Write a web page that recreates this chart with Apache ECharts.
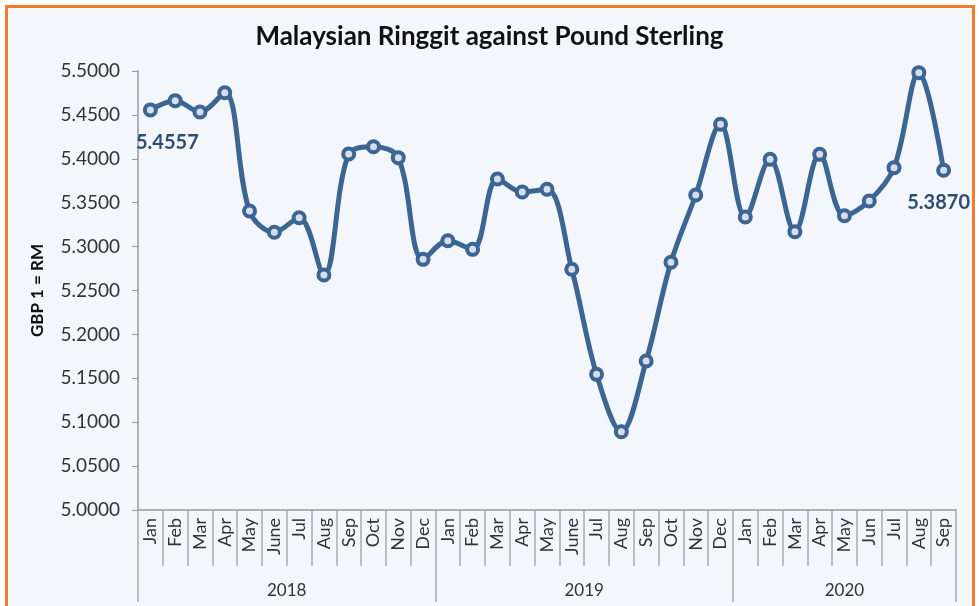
<!DOCTYPE html>
<html>
<head>
	<meta charset="utf-8" />
	<script src="https://cdn.jsdelivr.net/npm/echarts@6/dist/echarts.min.js"></script>
	<style>
		html, body { margin: 0; padding: 0; background: #fff; }
	</style>
</head>
<body>
	<div id="main" style="width: 979px;height:606px;"></div>

	<script type="text/javascript">
		// data
		var years = ['2018', '2019', '2020'];
		var monthsPerYear = [12, 12, 9];
		var months = [
			'Jan', 'Feb', 'Mar', 'Apr', 'May', 'June', 'Jul', 'Aug', 'Sep', 'Oct', 'Nov', 'Dec',
			'Jan', 'Feb', 'Mar', 'Apr', 'May', 'June', 'Jul', 'Aug', 'Sep', 'Oct', 'Nov', 'Dec',
			'Jan', 'Feb', 'Mar', 'Apr', 'May', 'Jun', 'Jul', 'Aug', 'Sep'
		];
		var rates = [
			5.4557, 5.4662, 5.4533, 5.4753, 5.3405, 5.3163, 5.3329, 5.2677, 5.4055, 5.4138, 5.4013, 5.2855,
			5.3067, 5.2969, 5.3770, 5.3622, 5.3653, 5.2742, 5.1545, 5.0892, 5.1697, 5.2821, 5.3588, 5.4393,
			5.3337, 5.3994, 5.3170, 5.4051, 5.3352, 5.3520, 5.3899, 5.4981, 5.3870
		];
		var labelIndex = [0, rates.length - 1];

		// year boundaries and centres on the secondary axis
		var bounds = [0];
		var centres = [];
		monthsPerYear.forEach(function (n) {
			var start = bounds[bounds.length - 1];
			bounds.push(start + n);
			centres.push(start + n / 2);
		});

		var font = 'Lato';
		var myChart = echarts.init(document.getElementById('main'));

		var option = {
			backgroundColor: '#ffffff',
			textStyle: { fontFamily: font },
			graphic: [{
				type: 'rect',
				z: -10,
				shape: { x: 6.5, y: 6.5, width: 967, height: 620 },
				style: { fill: '#F3F6FB', stroke: '#F47A2E', lineWidth: 3 }
			}],
			title: {
				text: 'Malaysian Ringgit against Pound Sterling',
				left: 'center',
				top: 19,
				textStyle: { fontFamily: font, fontSize: 26, fontWeight: 'bold', color: '#111' }
			},
			grid: { left: 138, right: 23, top: 71, bottom: 96 },
			xAxis: [{
				type: 'category',
				data: months,
				boundaryGap: true,
				axisLine: { lineStyle: { color: '#999', width: 1.5 } },
				axisTick: { show: true, interval: 0, length: 56, lineStyle: { color: '#aaa', width: 1.5 } },
				axisLabel: {
					interval: 0,
					rotate: 90,
					margin: 8,
					fontSize: 18,
					color: '#333'
				},
				splitLine: { show: false }
			}, {
				type: 'value',
				position: 'bottom',
				min: 0,
				max: bounds[bounds.length - 1],
				axisLine: { show: false },
				axisTick: {
					show: true,
					length: 92,
					customValues: bounds,
					lineStyle: { color: '#aaa', width: 1.5 }
				},
				axisLabel: {
					customValues: centres,
					margin: 72,
					fontSize: 17,
					color: '#333',
					formatter: function (v) {
						return years[centres.indexOf(v)];
					}
				},
				splitLine: { show: false }
			}],
			yAxis: {
				type: 'value',
				min: 5.0,
				max: 5.5,
				interval: 0.05,
				name: 'GBP 1 = RM',
				nameLocation: 'middle',
				nameGap: 92,
				nameTextStyle: { fontFamily: font, fontSize: 17, fontWeight: 'bold', color: '#111' },
				axisLine: { show: true, lineStyle: { color: '#999', width: 1.5 } },
				axisTick: { show: true, length: 6, lineStyle: { color: '#999' } },
				axisLabel: {
					fontSize: 19,
					color: '#333',
					margin: 18,
					formatter: function (v) { return v.toFixed(4); }
				},
				splitLine: { show: false }
			},
			series: [{
				type: 'line',
				xAxisIndex: 0,
				data: rates.map(function (v, i) {
					if (labelIndex.indexOf(i) < 0) return v;
					return {
						value: v,
						label: {
							show: true,
							position: 'bottom',
							offset: i === 0 ? [17, 10] : [-5, 10],
							formatter: function (p) { return p.value.toFixed(4); },
							fontFamily: font,
							fontSize: 20,
							fontWeight: 'bold',
							color: '#2E4D73'
						}
					};
				}),
				smooth: 0.35,
				symbol: 'circle',
				symbolSize: 11,
				lineStyle: { color: '#3B6593', width: 5 },
				itemStyle: { color: '#D5DEEA', borderColor: '#3B6593', borderWidth: 4 },
				emphasis: { disabled: true }
			}]
		};

		myChart.setOption(option);
	</script>
</body>
</html>
